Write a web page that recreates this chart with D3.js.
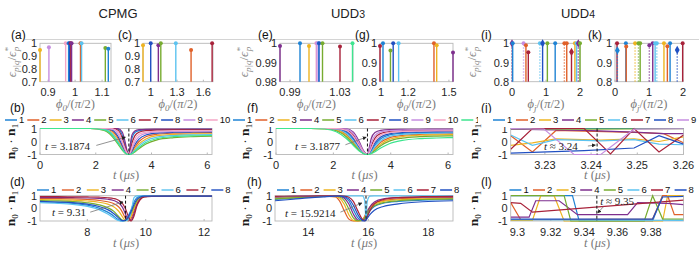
<!DOCTYPE html>
<html>
<head>
<meta charset="utf-8">
<script src="https://cdn.jsdelivr.net/npm/d3@7"></script>
<style>
  body { margin: 0; background: #fff; }
  svg { display: block; }
  text { font-family: "Liberation Sans", Arial, sans-serif; }
  .tick { font-size: 11px; fill: #262626; }
  .tex { font-family: "Liberation Serif", "DejaVu Serif", serif; }
</style>
</head>
<body>
<script>
// colours of series 1..11
var palette = ["#1f83d4", "#e0612a", "#eeb422", "#7e2f8e", "#77ac30", "#5cc3f0",
               "#a8223a", "#2150c2", "#c68ee0", "#f4a6c6", "#3ee58f"];

// ---- top row: stems, phi/(pi/2) against eps_{p|q}/eps*_p ----
var aPhi = [0.87, 0.903, 0.965, 0.976, 0.98, 0.984, 0.987, 1.02, 1.024, 1.112, 1.123];
var aEps = [0.948, 0.97, 1, 1, 1, 1, 1, 1, 1, 0.963, 0.958];
var aSer = [3, 9, 10, 1, 8, 7, 4, 2, 6, 5, 1];

var cPhi = [0.912, 1.0, 1.087, 1.115, 1.286, 1.46, 1.70];
var cEps = [0.985, 1, 0.984, 1, 1, 0.948, 1];
var cSer = [3, 8, 4, 5, 6, 2, 7];

var ePhi = [0.982, 0.998, 1.0052, 1.011, 1.0116, 1.013, 1.0132, 1.016, 1.03, 1.04];
var eEps = [0.9986, 1, 0.9986, 1, 1, 1, 1, 1, 0.9983, 1];
var eSer = [4, 1, 3, 10, 9, 6, 8, 5, 7, 11];

var gPhi = [0.993, 1.015, 1.07, 1.09, 1.13, 1.39, 1.41, 1.53];
var gEps = [0.986, 1, 0.962, 1, 1, 1, 0.99, 0.952];
var gSer = [7, 1, 5, 8, 6, 2, 3, 4];

var iPhi = [0.0, 0.02, 0.34, 0.41, 0.48, 0.82, 0.9, 1.04, 1.27, 1.54, 1.61, 1.75, 1.85, 1.9, 1.95, 2.0];
var iEps = [1, 1, 1, 0.99, 0.954, 1, 1, 1, 1, 1, 1, 0.955, 1, 1, 1, 1];
var iSer = [4, 1, 9, 2, 7, 6, 8, 5, 1, 2, 2, 7, 3, 6, 4, 5];
var iDotted = [1, 0, 1, 0, 0, 1, 0, 0, 0, 1, 0, 0, 0, 0, 1, 0];
var iDiamond = [1, 0, 0, 0, 0, 0, 1, 0, 0, 0, 0, 1, 0, 0, 1, 0];

var kPhi = [0.06, 0.07, 0.32, 0.33, 0.59, 0.69, 0.74, 1.01, 1.11, 1.18, 1.23, 1.44, 1.54, 1.62, 1.83, 1.99];
var kEps = [1, 0.963, 1, 0.983, 1, 1, 1, 0.99, 1, 1, 1, 1, 0.985, 1, 0.965, 1];
var kSer = [7, 1, 1, 2, 3, 5, 5, 4, 4, 6, 6, 3, 2, 1, 8, 7];
var kDotted = [0, 1, 0, 0, 1, 1, 0, 1, 0, 0, 1, 0, 0, 0, 1, 0];
var kDiamond = [0, 1, 0, 0, 0, 0, 0, 0, 0, 0, 0, 0, 0, 0, 1, 0];

// ---- (b) CPMG n0.n1 against t ----
var tB = [0, 1.8, 2.3, 2.6, 2.8, 2.95, 3.05, 3.12, 3.19, 3.24, 3.3, 3.4, 3.55, 3.8, 4.2, 4.8, 5.5, 6.17];
var bN = [
  [1, 1, 1, 1, 0.95, 0.49, -0.25, -0.78, -1, -0.46, 0.26, 0.69, 0.84, 0.9, 0.918, 0.925, 0.927, 0.928],
  [1, 1, 0.99, 0.78, 0.24, -0.38, -0.77, -0.94, -1, -0.95, -0.8, -0.44, 0.0, 0.37, 0.56, 0.64, 0.67, 0.683],
  [1, 1, 0.96, 0.66, 0.07, -0.49, -0.81, -0.95, -1, -0.97, -0.86, -0.59, -0.19, 0.2, 0.456, 0.543, 0.58, 0.597],
  [1, 1, 1, 1, 0.99, 0.73, 0, -0.68, -1, -0.2, 0.51, 0.81, 0.91, 0.94, 0.95, 0.956, 0.958, 0.96],
  [1, 1, 0.85, 0.36, -0.21, -0.66, -0.88, -0.97, -1, -0.99, -0.94, -0.81, -0.55, -0.19, 0.13, 0.30, 0.375, 0.404],
  [1, 1, 0.93, 0.56, -0.03, -0.56, -0.84, -0.96, -1, -0.98, -0.9, -0.69, -0.34, 0.06, 0.33, 0.46, 0.51, 0.53],
  [1, 1, 1, 1, 0.86, 0.26, -0.42, -0.84, -1, -0.72, -0.13, 0.43, 0.71, 0.83, 0.874, 0.89, 0.895, 0.897],
  [1, 1, 1, 0.87, 0.38, -0.28, -0.72, -0.93, -1, -0.93, -0.72, -0.27, 0.18, 0.5, 0.65, 0.71, 0.73, 0.738],
  [1, 1, 1, 0.95, 0.58, -0.11, -0.63, -0.9, -1, -0.89, -0.58, -0.06, 0.375, 0.625, 0.73, 0.77, 0.787, 0.792],
  [1, 1, 1, 0.98, 0.73, 0.05, -0.55, -0.88, -1, -0.83, -0.41, 0.17, 0.55, 0.73, 0.805, 0.83, 0.84, 0.845],
  [1, 1, 0.89, 0.46, -0.13, -0.61, -0.86, -0.96, -1, -0.98, -0.93, -0.76, -0.46, -0.07, 0.22, 0.38, 0.44, 0.46]
];

// ---- (d) CPMG, later window ----
var tD = [6.38, 7.0, 7.5, 8.0, 8.4, 8.7, 8.9, 9.0, 9.1, 9.2, 9.3, 9.4, 9.5, 9.6, 9.7, 9.8, 9.95, 10.2, 11.0, 12.27];
var dN = [
  [0.52, 0.47, 0.4, 0.25, 0.02, -0.3, -0.6, -0.8, -0.95, -0.99, -0.9, -0.6, -0.1, 0.5, 0.85, 0.95, 0.98, 0.98, 0.98, 0.98],
  [0.78, 0.77, 0.75, 0.7, 0.63, 0.52, 0.38, 0.25, 0.05, -0.3, -0.75, -1.0, -0.8, -0.2, 0.4, 0.75, 0.93, 0.96, 0.97, 0.97],
  [0.7, 0.68, 0.65, 0.58, 0.48, 0.33, 0.12, -0.05, -0.3, -0.65, -0.95, -0.95, -0.6, 0.0, 0.5, 0.8, 0.94, 0.97, 0.97, 0.97],
  [0.85, 0.85, 0.84, 0.82, 0.78, 0.72, 0.62, 0.52, 0.38, 0.1, -0.4, -0.9, -0.95, -0.4, 0.3, 0.7, 0.92, 0.96, 0.96, 0.96],
  [0.62, 0.59, 0.54, 0.44, 0.28, 0.05, -0.22, -0.45, -0.72, -0.93, -0.98, -0.8, -0.4, 0.15, 0.6, 0.85, 0.95, 0.97, 0.97, 0.97],
  [0.45, 0.4, 0.32, 0.15, -0.1, -0.45, -0.75, -0.9, -0.98, -1.0, -0.98, -0.9, -0.3, 0.85, 0.98, 0.99, 0.99, 0.99, 0.99, 0.99],
  [0.92, 0.92, 0.91, 0.9, 0.88, 0.84, 0.78, 0.72, 0.6, 0.4, 0.0, -0.6, -1.0, -0.6, 0.2, 0.65, 0.9, 0.95, 0.96, 0.96],
  [0.55, 0.5, 0.45, 0.33, 0.15, -0.1, -0.4, -0.6, -0.82, -0.97, -0.95, -0.7, -0.25, 0.3, 0.7, 0.88, 0.96, 0.97, 0.97, 0.97]
];

// ---- (f) UDD3 ----
var tF = [0, 1.2, 1.7, 2.1, 2.45, 2.7, 2.9, 3.05, 3.19, 3.25, 3.32, 3.45, 3.65, 3.95, 4.4, 5.0, 5.6, 6.17];
var fN = [
  [1, 1, 1, 0.97, 0.72, 0.15, -0.48, -0.87, -1, -0.93, -0.73, -0.26, 0.21, 0.5, 0.63, 0.684, 0.704, 0.713],
  [1, 1, 0.995, 0.93, 0.56, -0.03, -0.58, -0.9, -1, -0.96, -0.84, -0.52, -0.07, 0.28, 0.47, 0.554, 0.586, 0.6],
  [1, 1, 0.99, 0.88, 0.45, -0.13, -0.64, -0.91, -1, -0.97, -0.88, -0.61, -0.2, 0.16, 0.38, 0.48, 0.517, 0.535],
  [1, 1, 1, 1, 0.98, 0.72, 0, -0.7, -1, -0.48, 0.23, 0.7, 0.86, 0.92, 0.937, 0.944, 0.947, 0.948],
  [1, 1, 0.98, 0.83, 0.36, -0.21, -0.68, -0.92, -1, -0.98, -0.91, -0.69, -0.32, 0.03, 0.26, 0.375, 0.42, 0.44],
  [1, 1, 1, 0.95, 0.64, 0.05, -0.53, -0.88, -1, -0.95, -0.8, -0.4, 0.06, 0.39, 0.55, 0.62, 0.645, 0.657],
  [1, 1, 1, 1, 0.9, 0.49, -0.24, -0.79, -1, -0.81, -0.36, 0.26, 0.62, 0.77, 0.83, 0.852, 0.86, 0.863],
  [1, 1, 1, 0.985, 0.79, 0.26, -0.41, -0.85, -1, -0.91, -0.64, -0.11, 0.35, 0.59, 0.70, 0.744, 0.76, 0.767],
  [1, 1, 1, 1, 0.95, 0.6, -0.13, -0.75, -1, -0.7, -0.12, 0.47, 0.74, 0.84, 0.875, 0.889, 0.894, 0.896],
  [1, 1, 1, 0.99, 0.86, 0.37, -0.33, -0.82, -1, -0.87, -0.53, 0.07, 0.49, 0.69, 0.77, 0.803, 0.815, 0.82],
  [1, 1, 0.96, 0.75, 0.23, -0.31, -0.73, -0.93, -1, -0.99, -0.94, -0.79, -0.5, -0.17, 0.08, 0.22, 0.27, 0.30]
];

// ---- (h) UDD3, later window ----
var tH = [12.89, 13.5, 14.0, 14.5, 14.9, 15.05, 15.2, 15.35, 15.5, 15.65, 15.8, 15.88, 15.92, 15.96, 16.05, 16.2, 16.5, 17.0, 17.8, 18.82];
var hN = [
  [0.7, 0.8, 0.88, 0.94, 0.97, 0.96, 0.88, 0.6, -0.1, -0.75, -0.98, -0.9, -0.75, -0.55, -0.2, 0.15, 0.4, 0.55, 0.65, 0.7],
  [0.85, 0.9, 0.94, 0.97, 0.9, 0.55, -0.2, -0.85, -1.0, -1.0, -0.9, -0.6, -0.4, -0.2, 0.1, 0.4, 0.62, 0.75, 0.82, 0.85],
  [0.8, 0.86, 0.92, 0.96, 0.95, 0.8, 0.3, -0.5, -0.95, -1.0, -0.92, -0.7, -0.5, -0.3, 0.0, 0.3, 0.55, 0.68, 0.76, 0.8],
  [0.9, 0.93, 0.96, 0.98, 0.98, 0.95, 0.8, 0.35, -0.45, -0.92, -0.98, -0.8, -0.6, -0.35, 0.1, 0.5, 0.75, 0.85, 0.89, 0.9],
  [0.75, 0.83, 0.9, 0.95, 0.97, 0.9, 0.6, -0.05, -0.75, -0.98, -0.95, -0.75, -0.6, -0.4, -0.1, 0.2, 0.45, 0.6, 0.7, 0.75],
  [0.92, 0.95, 0.97, 0.98, 0.99, 0.99, 0.99, 0.99, 0.99, 0.99, 0.98, 0.6, -0.95, 0.5, 0.96, 0.98, 0.98, 0.98, 0.98, 0.98],
  [0.95, 0.96, 0.97, 0.98, 0.98, 0.98, 0.96, 0.88, 0.55, -0.2, -0.85, -0.98, -0.9, -0.7, -0.2, 0.35, 0.7, 0.85, 0.92, 0.95],
  [0.6, 0.72, 0.83, 0.91, 0.96, 0.96, 0.92, 0.75, 0.25, -0.5, -0.95, -1.0, -0.92, -0.8, -0.5, -0.15, 0.15, 0.35, 0.52, 0.6]
];

// ---- (j) UDD4, sampled points [t, n0.n1] ----
var jN = [
  [[3.2226, 1], [3.26, 1]],
  [[3.2226, 0.45], [3.2273, -0.8], [3.2324, 0.85], [3.2385, 0.8], [3.2493, 0.7], [3.2557, 0.6], [3.26, -0.1]],
  [[3.2226, -0.3], [3.2273, -0.1], [3.2324, 0.2], [3.2421, 0.1], [3.2493, 0.2], [3.2547, 0.0], [3.26, 0.35]],
  [[3.2226, 0.95], [3.2385, 0.85], [3.2493, 0.72], [3.2557, 0.6], [3.26, 0.6]],
  [[3.2226, 0.98], [3.2385, 0.95], [3.26, 0.98]],
  [[3.2226, 0.5], [3.2273, -0.3], [3.2324, 0.15], [3.2421, 0.05], [3.2493, 0.15], [3.2547, -0.2], [3.26, -0.25]],
  [[3.2226, -0.6], [3.2273, 1], [3.2385, 1], [3.2442, -0.95], [3.2493, 1], [3.2547, -0.8], [3.26, 0.5]],
  [[3.2226, -0.9], [3.2385, -0.7], [3.2493, -0.5], [3.2547, 0.45], [3.26, -0.2]],
  [[3.2226, 1], [3.2298, 0.95], [3.2363, -1], [3.2421, -1], [3.2493, 0.95], [3.26, 0.98]]
];

// ---- (l) UDD4, later window ----
var lN = [
  [[9.296, 1], [9.333, 1], [9.337, -1], [9.381, -1], [9.387, 1], [9.3995, 1]],
  [[9.296, 0.45], [9.302, -0.9], [9.381, -0.85], [9.387, 1], [9.39, 1], [9.394, -0.5], [9.3995, -0.5]],
  [[9.296, -0.95], [9.309, -0.95], [9.314, 1], [9.322, 1], [9.328, -1], [9.387, -1], [9.39, 1], [9.3995, 1]],
  [[9.296, -0.7], [9.307, -0.7], [9.311, 0.6], [9.325, 0.6], [9.336, -0.5], [9.366, -0.5], [9.372, 0.45], [9.39, 0.4], [9.3995, 0.3]],
  [[9.296, 1], [9.328, 1], [9.332, -1], [9.376, -1], [9.381, 1], [9.387, -0.85], [9.3995, -0.85]],
  [[9.296, -0.9], [9.3995, -0.95]],
  [[9.296, 0.45], [9.302, 0.4], [9.309, -0.3], [9.3995, 0.65]],
  [[9.296, -0.85], [9.381, -0.85], [9.387, 0.9], [9.3995, 0.95]]
];

// tick labels
var ticksA = [0.9, 1, 1.1], ticksC = [1, 1.3, 1.6], ticksE = [0.99, 1.03], ticksG = [1, 1.2, 1.5], ticksIK = [0, 1, 2];
var yTicks07 = [0.7, 0.8, 0.9, 1], yTicks098 = [0.98, 0.99, 1], yTicks08 = [0.8, 0.9, 1];
var ticksB = [0, 2, 4, 6], ticksD = [8, 10, 12], ticksH = [14, 16, 18];
var ticksJ = [3.23, 3.24, 3.25, 3.26], ticksL = [9.3, 9.32, 9.34, 9.36, 9.38], yTicksN = [-1, 0, 1];

// ===================================================================
var svg = d3.select("body").append("svg").attr("width", 699).attr("height", 253);
var defs = svg.append("defs");
defs.append("marker").attr("id", "arr").attr("viewBox", "0 0 6 6")
  .attr("refX", 5).attr("refY", 3).attr("markerWidth", 5).attr("markerHeight", 5)
  .attr("orient", "auto")
  .append("path").attr("d", "M0,0L6,3L0,6Z").attr("fill", "#222");

svg.append("line").attr("x1", 25).attr("x2", 699).attr("y1", 39.5).attr("y2", 39.5)
  .attr("stroke", "#d4d4d4").attr("stroke-width", 1);

// column titles
[["CPMG", "", 118], ["UDD", "3", 348], ["UDD", "4", 578]].forEach(function (d) {
  var t = svg.append("text").attr("x", d[2]).attr("y", 18).attr("text-anchor", "middle")
    .attr("font-size", 13).attr("fill", "#222").text(d[0]);
  if (d[1]) t.append("tspan").attr("font-size", 10.5).text(d[1]);
});

function panel(o) {
  var x = d3.scaleLinear().domain(o.xd).range([o.x0, o.x1]);
  var y = d3.scaleLinear().domain(o.yd).range([o.y1, o.y0]);
  var g = svg.append("g");
  var id = "clip" + o.name.replace(/[()]/g, "");
  defs.append("clipPath").attr("id", id).append("rect")
    .attr("x", o.x0).attr("y", o.y0 - 2).attr("width", o.x1 - o.x0).attr("height", o.y1 - o.y0 + 4);

  g.append("rect").attr("x", o.x0).attr("y", o.y0).attr("width", o.x1 - o.x0).attr("height", o.y1 - o.y0)
    .attr("fill", "none").attr("stroke", "#b8b8b8").attr("stroke-width", 0.9);

  o.xt.forEach(function (v) {
    g.append("line").attr("x1", x(v)).attr("x2", x(v)).attr("y1", o.y1).attr("y2", o.y1 - 2)
      .attr("stroke", "#b8b8b8");
    g.append("text").attr("class", "tick").attr("x", x(v)).attr("y", o.y1 + 14.5)
      .attr("text-anchor", "middle").text(v);
  });
  o.yt.forEach(function (v) {
    g.append("text").attr("class", "tick").attr("x", o.x0 - 3).attr("y", y(v) + 4)
      .attr("text-anchor", "end").text(v);
  });

  // panel letter
  svg.append("text").attr("x", o.lx).attr("y", o.ly).attr("font-size", 12).attr("fill", "#111").text(o.name);

  // x label
  var cx = (o.x0 + o.x1) / 2;
  var xl = svg.append("text").attr("class", "tex").attr("x", cx).attr("y", o.xly)
    .attr("text-anchor", "middle").attr("font-size", 12.5).attr("fill", "#7a7a7a").attr("font-style", "italic");
  if (o.xlab === "t") {
    xl.append("tspan").text("t");
    xl.append("tspan").attr("font-style", "normal").text(" (");
    xl.append("tspan").text("μs");
    xl.append("tspan").attr("font-style", "normal").text(")");
  } else {
    xl.append("tspan").text("ϕ");
    xl.append("tspan").attr("font-size", 9).attr("dy", 3).text(o.xlab);
    xl.append("tspan").attr("dy", -3).attr("font-style", "normal").text("/(");
    xl.append("tspan").text("π");
    xl.append("tspan").attr("font-style", "normal").text("/2)");
  }
  return { g: g, x: x, y: y, clip: id, o: o };
}

function epsLabel(cx, cy) {
  var t = svg.append("text").attr("class", "tex")
    .attr("transform", "translate(" + cx + "," + cy + ") rotate(-90)")
    .attr("text-anchor", "middle").attr("font-size", 13).attr("fill", "#8c8c8c").attr("font-style", "italic");
  t.append("tspan").text("ϵ");
  t.append("tspan").attr("font-size", 9).attr("dy", 3).text("p|q");
  t.append("tspan").attr("dy", -3).attr("font-style", "normal").text("/");
  t.append("tspan").text("ϵ");
  t.append("tspan").attr("font-size", 9).attr("dy", -5).text("*");
  t.append("tspan").attr("font-size", 9).attr("dx", -4).attr("dy", 8).text("p");
}

function nnLabel(cx, cy) {
  var t = svg.append("text").attr("class", "tex")
    .attr("transform", "translate(" + cx + "," + cy + ") rotate(-90)")
    .attr("text-anchor", "middle").attr("font-size", 13.5).attr("fill", "#1a1a1a");
  t.append("tspan").attr("font-weight", "bold").text("n");
  t.append("tspan").attr("font-size", 9).attr("dy", 3).text("0");
  t.append("tspan").attr("dy", -3).text(" · ");
  t.append("tspan").attr("font-weight", "bold").text("n");
  t.append("tspan").attr("font-size", 9).attr("dy", 3).text("1");
}

function stems(P, phi, eps, ser, dotted, diamond) {
  var base = P.o.yd[0];
  phi.forEach(function (v, i) {
    var c = palette[ser[i] - 1];
    var dot = dotted && dotted[i];
    P.g.append("line").attr("x1", P.x(v)).attr("x2", P.x(v)).attr("y1", P.y(base)).attr("y2", P.y(eps[i]))
      .attr("stroke", c).attr("stroke-width", 1.4)
      .attr("stroke-dasharray", dot ? "1.5,1.5" : null).attr("opacity", dot ? 0.7 : 1);
    if (diamond && diamond[i]) {
      P.g.append("path").attr("d", d3.symbol(d3.symbolDiamond, 20)())
        .attr("transform", "translate(" + P.x(v) + "," + P.y(eps[i]) + ")").attr("fill", c);
    } else {
      P.g.append("circle").attr("cx", P.x(v)).attr("cy", P.y(eps[i])).attr("r", 2).attr("fill", c);
    }
  });
}

function curves(P, t, series) {
  var line = d3.line().x(function (d, i) { return P.x(t[i]); }).y(function (d) { return P.y(d); })
    .curve(d3.curveMonotoneX);
  P.g.append("g").attr("clip-path", "url(#" + P.clip + ")").selectAll("path").data(series).join("path")
    .attr("d", function (d) { return line(d); }).attr("fill", "none")
    .attr("stroke", function (d, i) { return palette[i]; }).attr("stroke-width", 1.2);
}

function polylines(P, series) {
  var line = d3.line().x(function (d) { return P.x(d[0]); }).y(function (d) { return P.y(d[1]); });
  P.g.append("g").attr("clip-path", "url(#" + P.clip + ")").selectAll("path").data(series).join("path")
    .attr("d", function (d) { return line(d); }).attr("fill", "none")
    .attr("stroke", function (d, i) { return palette[i]; }).attr("stroke-width", 1.2);
}

function marker(P, t0, tx, ty, label, from, to) {
  P.g.append("line").attr("x1", P.x(t0)).attr("x2", P.x(t0)).attr("y1", P.o.y0).attr("y2", P.o.y1)
    .attr("stroke", "#111").attr("stroke-width", 1).attr("stroke-dasharray", "3,2");
  P.g.append("line").attr("x1", P.x(from[0])).attr("y1", P.y(from[1]))
    .attr("x2", P.x(to[0])).attr("y2", P.y(to[1]))
    .attr("stroke", "#777").attr("stroke-width", 0.8).attr("marker-end", "url(#arr)");
  var t = P.g.append("text").attr("class", "tex").attr("x", P.x(tx)).attr("y", P.y(ty))
    .attr("font-size", 11).attr("fill", "#222");
  t.append("tspan").attr("font-style", "italic").text("t");
  t.append("tspan").text(label);
}

function legend(x0, yc, n, adv, soft) {
  var g = svg.append("g");
  var x = x0;
  for (var i = 1; i <= n; i++) {
    g.append("line").attr("x1", x).attr("x2", x + 12).attr("y1", yc).attr("y2", yc)
      .attr("stroke", palette[i - 1]).attr("stroke-width", soft ? 2 : 1.5).attr("opacity", soft ? 0.7 : 1);
    g.append("text").attr("x", x + 14).attr("y", yc + 3.4).attr("font-size", 9.5).attr("fill", "#111").text(i);
    x += adv + (i >= 10 ? 5.3 : 0);
  }
}

// ---------------- top row ----------------
var top0 = 43.3, top1 = 81.7;
var PA = panel({ name: "(a)", x0: 40, x1: 111, y0: top0, y1: top1, xd: [0.87, 1.133], yd: [0.7, 1],
  xt: ticksA, yt: yTicks07, lx: 11, ly: 39, xlab: "0", xly: 108 });
stems(PA, aPhi, aEps, aSer);
var PC = panel({ name: "(c)", x0: 143, x1: 213, y0: top0, y1: top1, xd: [0.912, 1.71], yd: [0.7, 1],
  xt: ticksC, yt: yTicks07, lx: 118, ly: 39, xlab: "0", xly: 108 });
stems(PC, cPhi, cEps, cSer);
var PE = panel({ name: "(e)", x0: 280, x1: 353, y0: top0, y1: top1, xd: [0.982, 1.0404], yd: [0.98, 1],
  xt: ticksE, yt: yTicks098, lx: 258, ly: 39, xlab: "0", xly: 108 });
stems(PE, ePhi, eEps, eSer);
var PG = panel({ name: "(g)", x0: 380, x1: 453, y0: top0, y1: top1, xd: [0.993, 1.53], yd: [0.8, 1],
  xt: ticksG, yt: yTicks08, lx: 355, ly: 39, xlab: "0", xly: 108 });
stems(PG, gPhi, gEps, gSer);
var PI = panel({ name: "(i)", x0: 512, x1: 580, y0: top0, y1: top1, xd: [0, 2], yd: [0.8, 1],
  xt: ticksIK, yt: yTicks08, lx: 481, ly: 39, xlab: "j", xly: 108 });
stems(PI, iPhi, iEps, iSer, iDotted, iDiamond);
var PK = panel({ name: "(k)", x0: 615, x1: 683, y0: top0, y1: top1, xd: [0, 2], yd: [0.8, 1],
  xt: ticksIK, yt: yTicks08, lx: 588, ly: 39, xlab: "j", xly: 108 });
stems(PK, kPhi, kEps, kSer, kDotted, kDiamond);

epsLabel(16, 62); epsLabel(248, 62); epsLabel(476, 62);

// ---------------- middle row ----------------
var PB = panel({ name: "(b)", x0: 40, x1: 212, y0: 128.5, y1: 154.5, xd: [0, 6.17], yd: [-1, 1],
  xt: ticksB, yt: yTicksN, lx: 10, ly: 112, xlab: "t", xly: 178.5 });
curves(PB, tB, bN);
marker(PB, 3.1874, 0.18, -0.65, " = 3.1874", [2.02, -0.3], [3.06, 0.33]);

var PF = panel({ name: "(f)", x0: 276, x1: 453, y0: 128.5, y1: 154.5, xd: [0, 6.17], yd: [-1, 1],
  xt: ticksB, yt: yTicksN, lx: 247, ly: 112, xlab: "t", xly: 178.5 });
curves(PF, tF, fN);
marker(PF, 3.1877, 0.66, -0.65, " = 3.1877", [2.42, -0.25], [3.14, 0.33]);

var PJ = panel({ name: "(j)", x0: 510.7, x1: 683.5, y0: 128.5, y1: 154.5, xd: [3.2226, 3.26], yd: [-1, 1],
  xt: ticksJ, yt: yTicksN, lx: 481, ly: 112, xlab: "t", xly: 179 });
polylines(PJ, jN);
marker(PJ, 3.2413, 3.2298, -0.62, " ≈ 3.24", [3.2393, -0.35], [3.2409, -0.27]);

legend(5, 120, 10, 22.3);
svg.append("rect").attr("x", 231.5).attr("y", 113).attr("width", 246.5).attr("height", 14).attr("fill", "#fff");
legend(233, 120, 11, 22.3);
svg.append("rect").attr("x", 478).attr("y", 113).attr("width", 221).attr("height", 14).attr("fill", "#fff");
legend(493, 120, 9, 23);

nnLabel(15, 141.5); nnLabel(249, 141.5); nnLabel(478, 141.5);

// ---------------- bottom row ----------------
var PD = panel({ name: "(d)", x0: 40, x1: 212, y0: 195.7, y1: 221, xd: [6.38, 12.27], yd: [-1, 1],
  xt: ticksD, yt: yTicksN, lx: 10, ly: 186, xlab: "t", xly: 247 });
curves(PD, tD, dN);
marker(PD, 9.31, 6.79, -0.62, " = 9.31", [8.1, -0.3], [9.22, 0.5]);

var PH = panel({ name: "(h)", x0: 275, x1: 453, y0: 195.7, y1: 221, xd: [12.89, 18.82], yd: [-1, 1],
  xt: ticksH, yt: yTicksN, lx: 247, ly: 186, xlab: "t", xly: 247 });
curves(PH, tH, hN);
marker(PH, 15.9214, 13.22, -0.65, " = 15.9214", [15.07, -0.3], [15.78, 0.42]);

var PL = panel({ name: "(l)", x0: 510.7, x1: 683.5, y0: 195.7, y1: 221, xd: [9.296, 9.3995], yd: [-1, 1],
  xt: ticksL, yt: yTicksN, lx: 481, ly: 186, xlab: "t", xly: 247 });
polylines(PL, lN);
marker(PL, 9.3476, 9.3496, 0.3, " ≈ 9.35", [9.3515, 0.12], [9.3482, -0.35]);

legend(37, 190, 8, 24.9, true);
legend(277, 190, 8, 23.3);
legend(509.4, 190, 8, 23.6);

nnLabel(15, 208.5); nnLabel(249, 208.5); nnLabel(478, 208.5);
</script>
</body>
</html>
